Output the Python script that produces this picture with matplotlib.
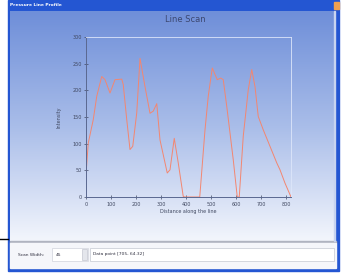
import numpy as np
import matplotlib.pyplot as plt
from matplotlib.colors import LinearSegmentedColormap
from matplotlib.patches import Rectangle

# line scan profile
dist = [0, 9, 29, 43, 63, 76, 96, 116, 143, 149, 163, 176, 187, 203, 216,
        236, 256, 269, 283, 296, 325, 336, 353, 369, 389, 395, 455, 476,
        489, 505, 525, 539, 549, 563, 589, 605, 613, 629, 649, 663, 676,
        689, 709, 736, 763, 776, 796, 820]
intensity = [42, 101, 145, 189, 226, 220, 195, 220, 221, 211, 145, 89, 95,
             158, 260, 207, 157, 161, 175, 107, 45, 51, 110, 64, 1, 0, 0,
             126, 189, 242, 220, 223, 220, 170, 70, 0, 0, 114, 201, 239,
             207, 151, 126, 95, 64, 51, 26, 0]
xticks = [0, 100, 200, 300, 400, 500, 600, 700, 800]
yticks = [0, 50, 100, 150, 200, 250, 300]

W, H = 344, 275
fig = plt.figure(figsize=(W / 100, H / 100), dpi=100)

# window chrome drawn in pixel coords
bg = fig.add_axes([0, 0, 1, 1])
bg.set_xlim(0, W)
bg.set_ylim(H, 0)
bg.axis('off')

bg.add_patch(Rectangle((8, 0), 331, 271, color='#2456d2', zorder=1))
grad = LinearSegmentedColormap.from_list('g', ['#6f8fd9', '#a9bde9', '#f2f5fc'])
bg.imshow(np.linspace(0, 1, 100).reshape(-1, 1), cmap=grad, aspect='auto',
          extent=[10, 336, 241, 11], zorder=2, interpolation='bicubic')
bg.add_patch(Rectangle((10, 241), 326, 2, color='#b0b4c0', zorder=3))
bg.add_patch(Rectangle((10, 243), 326, 25, color='#f5f6fa', zorder=3))
bg.add_patch(Rectangle((334, 11), 1, 230, color='#c8d4f0', zorder=3))
bg.add_patch(Rectangle((334, 2), 5, 7, color='#f0a050', zorder=3))
bg.text(10, 5.5, 'Pressure Line Profile', color='white', fontsize=3.2,
        fontweight='bold', va='center', zorder=4)
bg.plot([0, 8], [239, 239], color='black', lw=1, zorder=4)

# bottom panel widgets
bg.add_patch(Rectangle((52, 248), 36, 13, facecolor='white', edgecolor='#d0d3dc',
                       lw=0.5, zorder=4))
bg.add_patch(Rectangle((82, 249), 5, 11, facecolor='#e4e6ec', edgecolor='#b8bcc8',
                       lw=0.4, zorder=5))
bg.add_patch(Rectangle((90, 248), 244, 13, facecolor='white', edgecolor='#c4c8d2',
                       lw=0.5, zorder=4))
bg.text(18, 254.5, 'Scan Width:', fontsize=3.2, color='#303040', va='center', zorder=6)
bg.text(56, 254.5, '45', fontsize=3.2, color='#303040', va='center', zorder=6)
bg.text(93, 254.5, 'Data point [705, 64.32]', fontsize=3.2, color='#303040',
        va='center', zorder=6)
bg.text(185, 20, 'Line Scan', fontsize=6, color='#3c4870', ha='center',
        va='center', zorder=6)

# chart
ax = fig.add_axes([86 / W, 1 - 197 / H, 205 / W, 160 / H])
ax.patch.set_alpha(0)
ax.plot(dist, intensity, color='#f38670', lw=0.7)
ax.set_xlim(0, 820)
ax.set_ylim(0, 300)
ax.set_xticks(xticks)
ax.set_yticks(yticks)
ax.tick_params(labelsize=3.5, colors='#404860', length=2.5, width=0.5,
               direction='inout', pad=2)
for s in ['left', 'bottom']:
    ax.spines[s].set_color('#5a6890')
    ax.spines[s].set_linewidth(0.7)
for s in ['top', 'right']:
    ax.spines[s].set_color('#dde6fa')
    ax.spines[s].set_linewidth(0.6)
ax.set_xlabel('Distance along the line', fontsize=3.5, color='#404860', labelpad=2)
ax.set_ylabel('Intensity', fontsize=3.5, color='#404860', labelpad=8)

fig.savefig('out.png', dpi=100)
